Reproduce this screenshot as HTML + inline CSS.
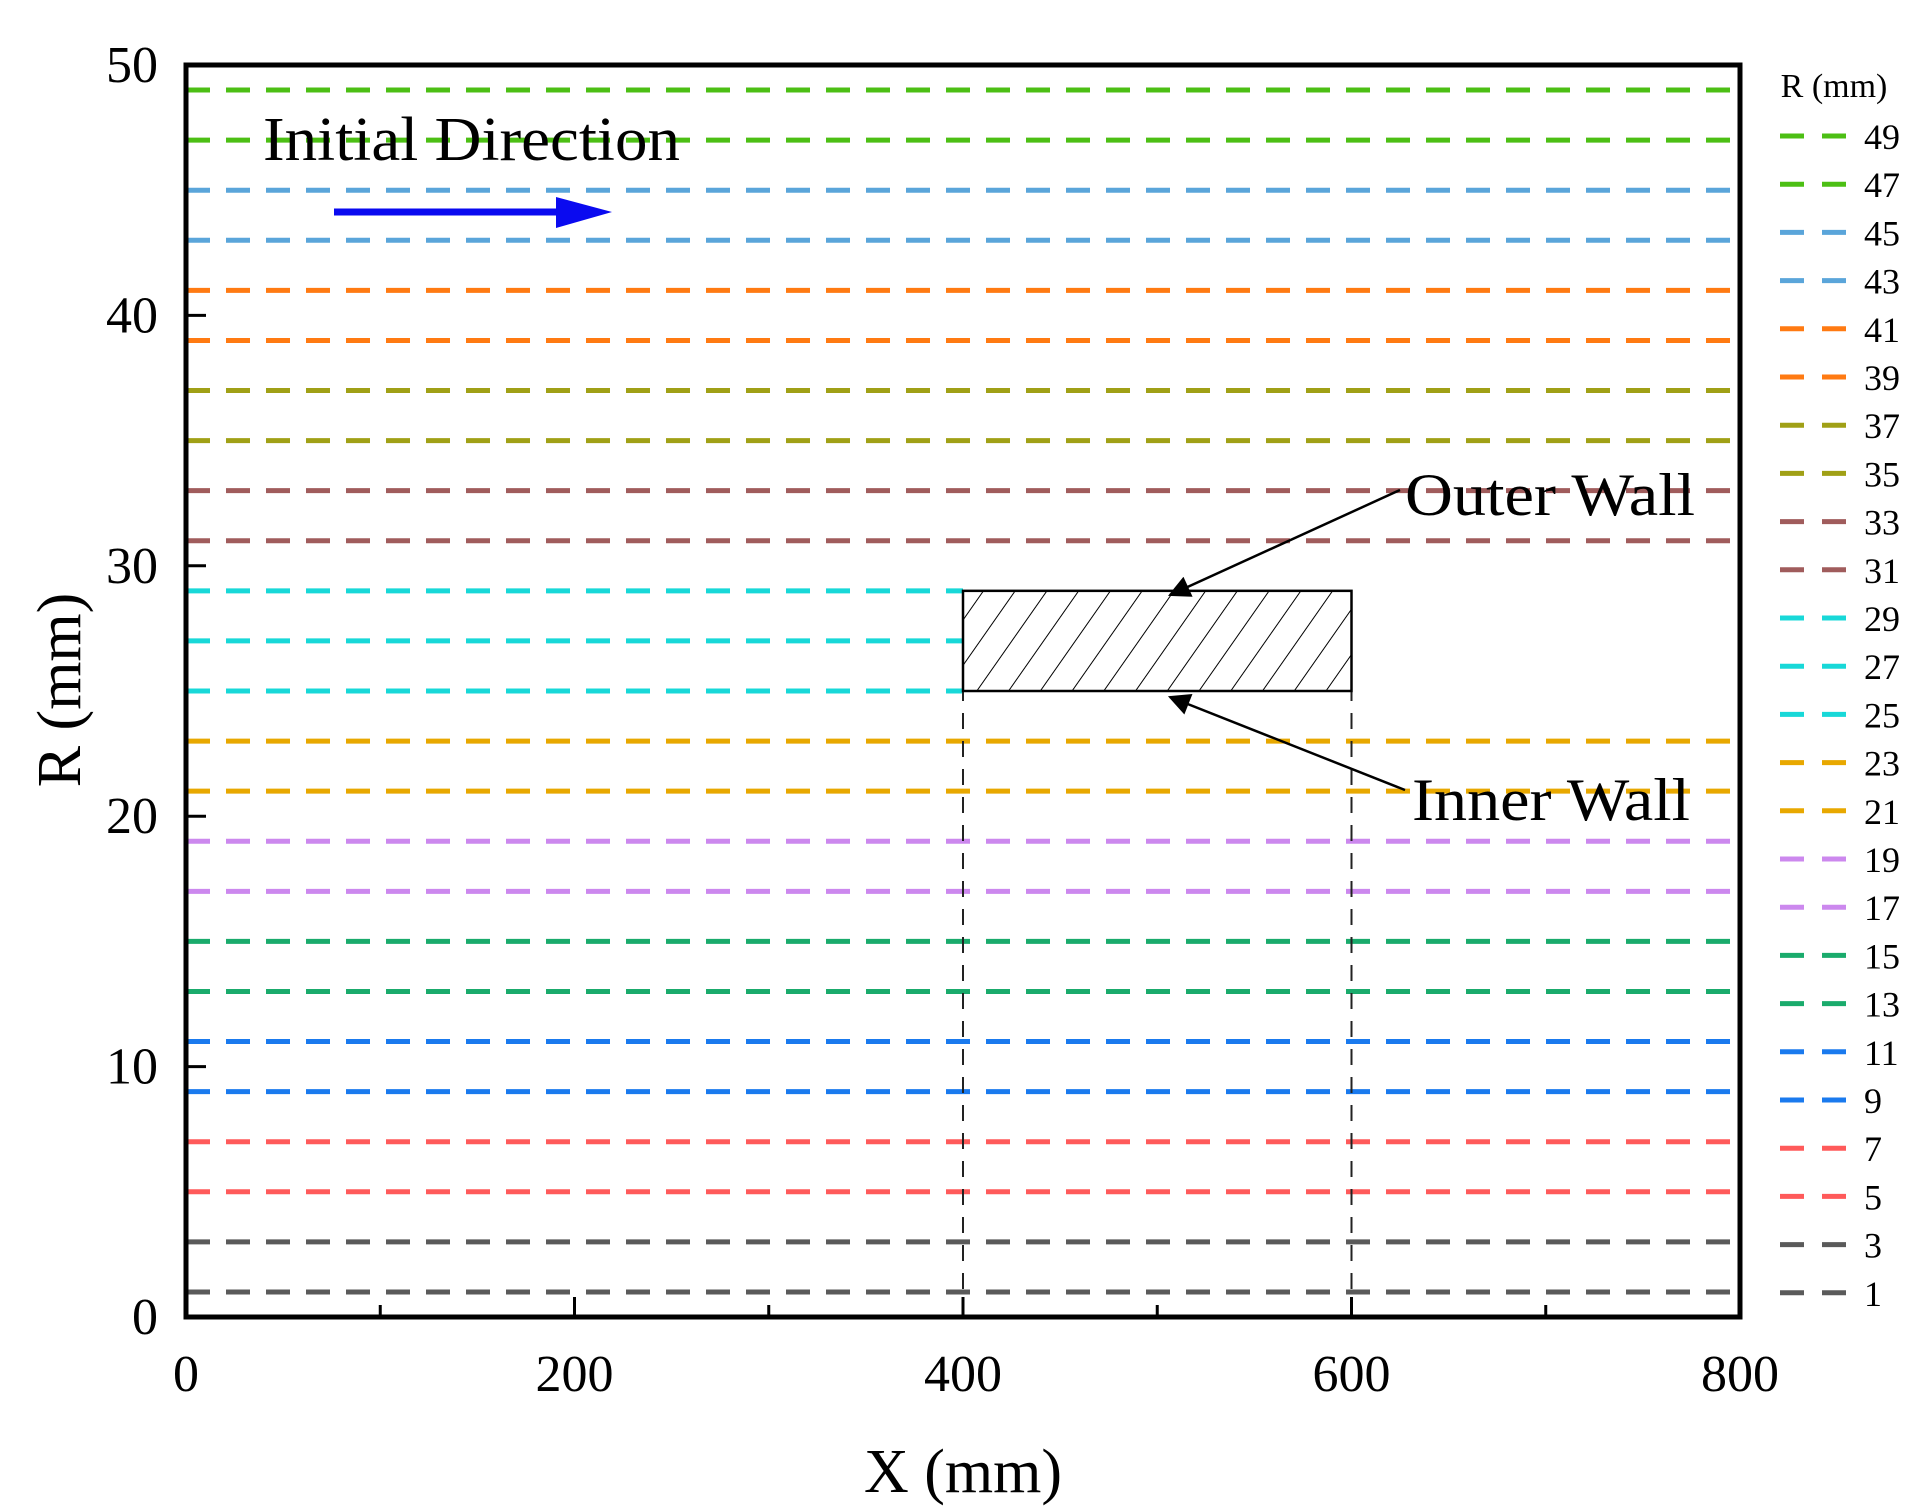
<!DOCTYPE html>
<html><head><meta charset="utf-8"><style>
html,body{margin:0;padding:0;background:#fff;}
svg{display:block;font-family:"Liberation Serif",serif;}
</style></head><body>
<svg id="chart" width="1928" height="1512" viewBox="0 0 1928 1512">
<defs>
<pattern id="hatch" patternUnits="userSpaceOnUse" width="26" height="26" patternTransform="rotate(35)">
<line x1="0" y1="0" x2="0" y2="26" stroke="#000" stroke-width="2"/>
</pattern>
<marker id="ah" viewBox="0 0 10 10" refX="9" refY="5" markerWidth="34" markerHeight="22" orient="auto" markerUnits="userSpaceOnUse">
<path d="M0,0 L10,5 L0,10 z" fill="#000"/>
</marker>
</defs>
<g id="lines"></g>
<g id="wall"></g>
<g id="axes"></g>
<g id="legend"></g>
<g id="annot"></g>
</svg>
<script>
const radii=[49,47,45,43,41,39,37,35,33,31,29,27,25,23,21,19,17,15,13,11,9,7,5,3,1];
const colors=["#4cbf14","#4cbf14","#5aa5da","#5aa5da","#ff7a12","#ff7a12","#a0a016","#a0a016","#a05c5c","#a05c5c","#18d8d8","#18d8d8","#18d8d8","#e8a800","#e8a800","#cc88ee","#cc88ee","#1aab6c","#1aab6c","#1a7aee","#1a7aee","#ff5a5a","#ff5a5a","#5a5a5a","#5a5a5a"];
const lineEnd=[800,800,800,800,800,800,800,800,800,800,400,400,400,800,800,800,800,800,800,800,800,800,800,800,800];
const xTicks=[0,200,400,600,800];
const xMinor=[100,300,500,700];
const yTicks=[0,10,20,30,40,50];
const wallX=[400,600];
const wallR=[25,29];
const NS="http://www.w3.org/2000/svg";
const L=186,R=1740,T=65,B=1317;
const sx=v=>L+(v/800)*(R-L);
const sy=v=>B-(v/50)*(B-T);
function mk(tag,attrs,parent){const e=document.createElementNS(NS,tag);for(const k in attrs)e.setAttribute(k,attrs[k]);parent.appendChild(e);return e;}
const gl=document.getElementById('lines');
radii.forEach((r,i)=>{
 const l=mk('line',{x1:sx(0),x2:sx(lineEnd[i]),y1:sy(r),y2:sy(r),stroke:colors[i],'stroke-width':5,'stroke-dasharray':'24 16'},gl);
 
 
});
const gw=document.getElementById('wall');
wallX.forEach(x=>{
 const v=mk('line',{x1:sx(x),x2:sx(x),y1:sy(0),y2:sy(wallR[0]),stroke:'#222','stroke-width':2,'stroke-dasharray':'16 12'},gw);
 
 
});
const rect=mk('rect',{x:sx(wallX[0]),y:sy(wallR[1]),width:sx(wallX[1])-sx(wallX[0]),height:sy(wallR[0])-sy(wallR[1]),fill:'url(#hatch)',stroke:'#000','stroke-width':2.5},gw);


const ga=document.getElementById('axes');
const frame=mk('rect',{x:L,y:T,width:R-L,height:B-T,fill:'none',stroke:'#000','stroke-width':5},ga);


xTicks.forEach(v=>{
 const t=mk('line',{x1:sx(v),x2:sx(v),y1:B,y2:B-20,stroke:'#000','stroke-width':3},ga);
 
 
 const tx=mk('text',{x:sx(v),y:B+74,'font-size':52,'text-anchor':'middle'},ga);
 tx.textContent=v;
 
 
});
xMinor.forEach(v=>{
 const t=mk('line',{x1:sx(v),x2:sx(v),y1:B,y2:B-12,stroke:'#000','stroke-width':3},ga);
 
 
});
yTicks.forEach(v=>{
 const t=mk('line',{x1:L,x2:L+20,y1:sy(v),y2:sy(v),stroke:'#000','stroke-width':3},ga);
 
 
 const tx=mk('text',{x:158,y:sy(v)+17,'font-size':52,'text-anchor':'end'},ga);
 tx.textContent=v;
 
 
});
const xt=mk('text',{x:(L+R)/2,y:1492,'font-size':62,'text-anchor':'middle'},ga);
xt.textContent='X (mm)';


const yt=mk('text',{x:0,y:0,'font-size':62,'text-anchor':'middle',transform:'translate(80,690) rotate(-90)'},ga);
yt.textContent='R (mm)';


const lg=document.getElementById('legend');
const lt=mk('text',{x:1834,y:97,'font-size':34,'text-anchor':'middle'},lg);
lt.textContent='R (mm)';


radii.forEach((r,i)=>{
 const y=136+i*48.2;
 const g=mk('g',{},lg);
 
 
 mk('line',{x1:1780,x2:1860,y1:y,y2:y,stroke:colors[i],'stroke-width':5,'stroke-dasharray':'24 18'},g);
 const t=mk('text',{x:1864,y:y+13,'font-size':36},g);
 t.textContent=r;
});
const an=document.getElementById('annot');
const dir=mk('text',{x:263,y:160,'font-size':62,textLength:417,lengthAdjust:'spacingAndGlyphs'},an);
dir.textContent='Initial Direction';


const ar=mk('line',{x1:334,x2:560,y1:212,y2:212,stroke:'#0a0af0','stroke-width':7},an);


const ah=mk('path',{d:'M556,197 L612,212 L556,228 z',fill:'#0a0af0'},an);


const ow=mk('text',{x:1405,y:515,'font-size':60,textLength:290,lengthAdjust:'spacingAndGlyphs'},an);
ow.textContent='Outer Wall';


const oa=mk('line',{x1:1400,y1:490,x2:1170,y2:595,stroke:'#000','stroke-width':2.5,'marker-end':'url(#ah)'},an);


const iw=mk('text',{x:1412,y:820,'font-size':60,textLength:278,lengthAdjust:'spacingAndGlyphs'},an);
iw.textContent='Inner Wall';


const ia=mk('line',{x1:1405,y1:790,x2:1170,y2:697,stroke:'#000','stroke-width':2.5,'marker-end':'url(#ah)'},an);


</script>
</body></html>
